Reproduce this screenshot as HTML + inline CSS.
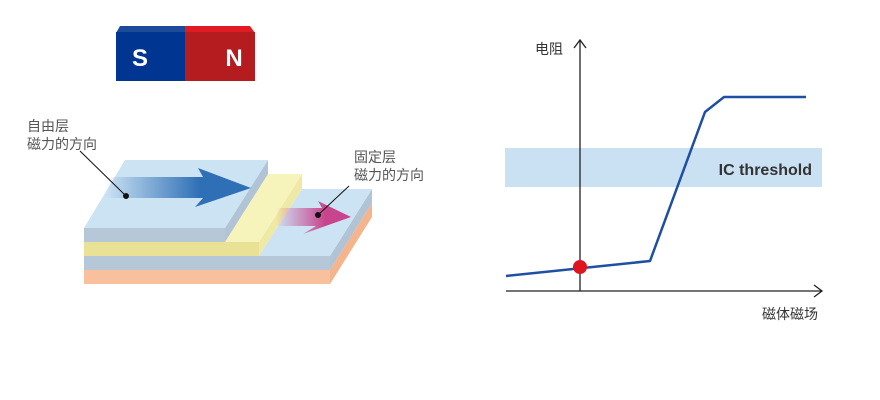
<!DOCTYPE html><html><head><meta charset="utf-8"><style>body{margin:0;background:#fff}svg{display:block}text{font-family:"Liberation Sans","Noto Sans CJK SC",sans-serif}</style></head><body>
<svg width="880" height="400" viewBox="0 0 880 400">
<defs>
<linearGradient id="ba" x1="105" x2="200" y1="0" y2="0" gradientUnits="userSpaceOnUse"><stop offset="0" stop-color="#2f6fb6" stop-opacity="0"/><stop offset="1" stop-color="#2f6fb6"/></linearGradient>
<linearGradient id="pa" x1="276" x2="325" y1="0" y2="0" gradientUnits="userSpaceOnUse"><stop offset="0" stop-color="#c8458e" stop-opacity="0"/><stop offset="1" stop-color="#c8458e"/></linearGradient>
</defs>
<polygon points="120,26 185,26 185,33 116,33" fill="#1d4b9a"/>
<polygon points="185,26 250,26 255,33 185,33" fill="#e01b24"/>
<rect x="116" y="32" width="69" height="49" fill="#003592"/>
<rect x="185" y="32" width="70" height="49" fill="#b41c20"/>
<text x="140" y="66" font-size="24" font-weight="bold" fill="#fff" text-anchor="middle">S</text>
<text x="234" y="66" font-size="24" font-weight="bold" fill="#fff" text-anchor="middle">N</text>
<rect x="84" y="270" width="246" height="14" fill="#f8c09c"/>
<polygon points="330,270 330,284 372,217 372,203" fill="#f6b48c"/>
<rect x="84" y="256" width="246" height="14" fill="#b6c8d8"/>
<polygon points="330,256 330,270 372,203 372,189" fill="#b0c4d6"/>
<polygon points="259,256 330,256 372,189 302,189" fill="#cce3f4"/>
<rect x="84" y="242" width="175" height="14" fill="#e9e296"/>
<polygon points="259,242 259,256 302,189 302,174" fill="#efe9a6"/>
<polygon points="225,242 259,242 302,174 268,174" fill="#f7f4bb"/>
<rect x="84" y="228" width="141" height="14" fill="#b6c8d8"/>
<polygon points="225,228 225,242 268,174 268,160" fill="#b0c4d6"/>
<polygon points="84,228 225,228 268,160 125,160" fill="#cce3f4"/>
<polygon points="105,177 203,177 198,168 251,188 195,207 203,198 100,198" fill="url(#ba)"/>
<polygon points="276,208 322,208 318,201 351,217 303,234 316,226 276,226" fill="url(#pa)"/>
<line x1="80" y1="151" x2="126" y2="196" stroke="#111" stroke-width="1"/>
<circle cx="126" cy="196" r="3" fill="#111"/>
<line x1="349" y1="186" x2="318" y2="215" stroke="#111" stroke-width="1"/>
<circle cx="318" cy="215" r="3" fill="#111"/>
<g font-size="14" fill="#555">
<text x="27" y="131">自由层</text><text x="27" y="149">磁力的方向</text>
<text x="354" y="162">固定层</text><text x="354" y="180">磁力的方向</text>
</g>
<rect x="505" y="148" width="317" height="39" fill="#c9e1f3"/>
<text x="812" y="175" font-size="16" font-weight="bold" fill="#333" text-anchor="end">IC threshold</text>
<line x1="580" y1="40" x2="580" y2="291" stroke="#222" stroke-width="1.3"/>
<polyline points="574,48 580,40 586,48" fill="none" stroke="#222" stroke-width="1.3"/>
<line x1="506" y1="291" x2="822" y2="291" stroke="#222" stroke-width="1.3"/>
<polyline points="814,285 822,291 814,297" fill="none" stroke="#222" stroke-width="1.3"/>
<polyline points="506,276 650,261 705,112 724,97 806,97" fill="none" stroke="#1f4fa2" stroke-width="2.5" stroke-linejoin="round"/>
<circle cx="580" cy="267" r="7" fill="#e0141e"/>
<g font-size="14" fill="#333"><text x="535" y="54">电阻</text><text x="762" y="319">磁体磁场</text></g>
</svg></body></html>
